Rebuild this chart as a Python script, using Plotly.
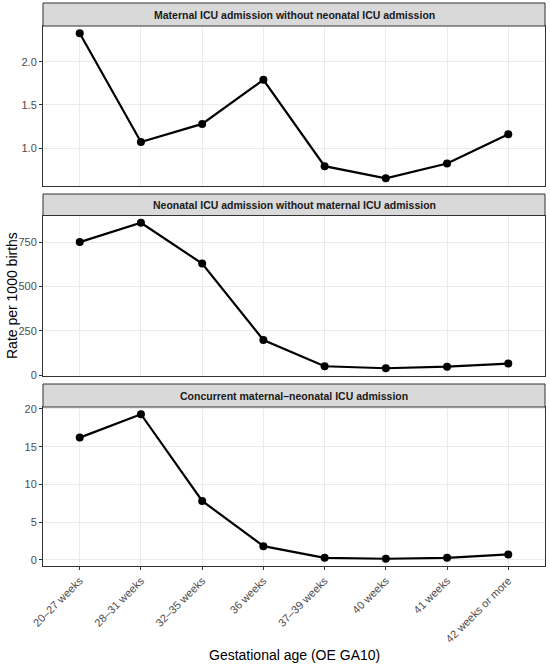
import plotly.graph_objects as go

# gestational age groups
categories = ['20–27 weeks', '28–31 weeks', '32–35 weeks', '36 weeks',
              '37–39 weeks', '40 weeks', '41 weeks', '42 weeks or more']

# rate per 1000 births
maternal_only = [2.33, 1.07, 1.28, 1.79, 0.79, 0.65, 0.82, 1.16]
neonatal_only = [750, 859, 629, 198, 50, 39, 48, 65]
concurrent = [16.2, 19.3, 7.8, 1.8, 0.26, 0.13, 0.26, 0.7]

panel_titles = ['Maternal ICU admission without neonatal ICU admission',
                'Neonatal ICU admission without maternal ICU admission',
                'Concurrent maternal–neonatal ICU admission']

W, H = 550, 667
ml, mr, mt, mb = 43, 5, 3, 101
ph = H - mt - mb


def frac(ypx):
    # pixel row (from top of page) -> paper fraction
    return (H - mb - ypx) / ph


# (strip top, plot top, plot bottom) in page pixels
rows = [(3, 26, 185.5), (194, 215.5, 375.5), (384, 407, 566)]


def expand(vals):
    lo, hi = min(vals), max(vals)
    pad = (hi - lo) * 0.05
    return [lo - pad, hi + pad]


fig = go.Figure()
series = [maternal_only, neonatal_only, concurrent]
for i, vals in enumerate(series):
    n = '' if i == 0 else str(i + 1)
    fig.add_trace(go.Scatter(x=categories, y=vals, mode='lines+markers',
                             line=dict(color='black', width=2.2),
                             marker=dict(color='black', size=8),
                             xaxis='x' + n, yaxis='y' + n, showlegend=False))

grid = '#ebebeb'
border = '#333333'
tickfont = dict(family='Liberation Sans, Arial', size=11, color='#4d4d4d')
layout = dict(width=W, height=H, margin=dict(l=ml, r=mr, t=mt, b=mb, autoexpand=False),
              plot_bgcolor='white', paper_bgcolor='white',
              font=dict(family='Liberation Sans, Arial', color='black'),
              shapes=[], annotations=[])

dticks = [0.5, 250, 5]
fmts = ['.1f', '', '']
for i, (st, pt, pb) in enumerate(rows):
    n = '' if i == 0 else str(i + 1)
    last = i == 2
    layout['xaxis' + n] = dict(
        domain=[0, 1], anchor='y' + n, type='category',
        categoryorder='array', categoryarray=categories,
        range=[-0.6, len(categories) - 0.4], automargin=False,
        showgrid=True, gridcolor=grid, gridwidth=1,
        showline=True, linecolor=border, linewidth=1, mirror=True,
        ticks='outside' if last else '', ticklen=3, tickcolor=border,
        showticklabels=last, tickangle=-45, tickfont=tickfont,
        zeroline=False)
    layout['yaxis' + n] = dict(
        domain=[frac(pb), frac(pt)], anchor='x' + n, automargin=False,
        range=expand(series[i]), dtick=dticks[i], tickformat=fmts[i],
        showgrid=True, gridcolor=grid, gridwidth=1,
        showline=True, linecolor=border, linewidth=1, mirror=True,
        ticks='outside', ticklen=3, tickcolor=border, tickfont=tickfont,
        zeroline=False)
    # facet strip
    layout['shapes'].append(dict(type='rect', xref='paper', yref='paper',
                                 x0=0, x1=1, y0=frac(pt), y1=frac(st),
                                 fillcolor='#d9d9d9',
                                 line=dict(color=border, width=1)))
    layout['annotations'].append(dict(
        text='<b>' + panel_titles[i] + '</b>', xref='paper', yref='paper',
        x=0.5, y=(frac(pt) + frac(st)) / 2, showarrow=False,
        xanchor='center', yanchor='middle',
        font=dict(size=10.5, color='#1a1a1a')))

layout['annotations'].append(dict(
    text='Rate per 1000 births', xref='paper', yref='paper',
    x=-31 / (W - ml - mr), y=frac(296), showarrow=False, textangle=-90,
    xanchor='center', yanchor='middle', font=dict(size=14, color='black')))
layout['annotations'].append(dict(
    text='Gestational age (OE GA10)', xref='paper', yref='paper',
    x=0.5, y=frac(655), showarrow=False,
    xanchor='center', yanchor='middle', font=dict(size=14, color='black')))

fig.update_layout(**layout)
# drop the browser's default page margin so the figure sits at 0,0
fig.write_html('out.html', config={'displayModeBar': False},
               post_script="document.body.style.margin='0';"
                           "document.body.style.overflow='hidden';")
